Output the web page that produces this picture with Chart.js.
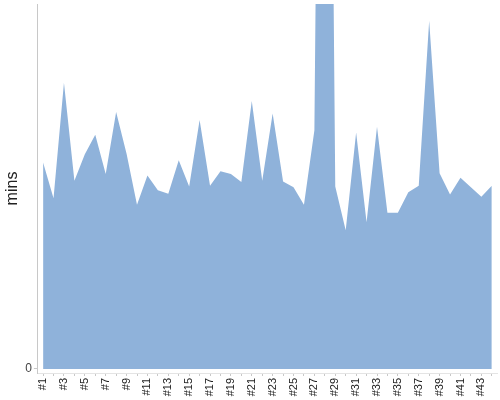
<!DOCTYPE html>
<html>
<head>
<meta charset="utf-8">
<script src="https://cdn.jsdelivr.net/npm/chart.js@4"></script>
<style>
  html, body { margin: 0; padding: 0; background: #fff; }
  #wrap { width: 500px; height: 400px; }
</style>
</head>
<body>
<div id="wrap"><canvas id="chart"></canvas></div>
<script>
// sessions #1..#44
const labels = [];
for (let i = 1; i <= 44; i++) labels.push("#" + i);

const minutes = [
  28.3, 23.4, 39.2, 25.8, 29.4, 32.1, 26.7, 35.2, 29.5, 22.5,
  26.5, 24.5, 24.0, 28.6, 25.0, 34.1, 25.1, 27.1, 26.7, 25.6,
  36.7, 25.8, 35.0, 25.7, 24.9, 22.5, 32.7, 188, 25.0, 19.0,
  32.4, 20.1, 33.2, 21.4, 21.4, 24.2, 25.1, 47.7, 26.8, 23.9,
  26.2, 24.9, 23.6, 25.1
];

const yTicks = [0];
const yMin = -0.55; // small gap between the area and the x axis line
const yMax = 50;

const axisGray = "#c8c8c8";

new Chart(document.getElementById("chart"), {
  type: "line",
  data: {
    labels: labels,
    datasets: [
      {
        label: "mins",
        data: minutes,
        fill: "origin",
        backgroundColor: "rgb(143,178,218)",
        borderWidth: 0,
        pointRadius: 0,
        tension: 0
      }
    ]
  },
  options: {
    responsive: true,
    maintainAspectRatio: false,
    animation: false,
    layout: { padding: { top: 4, right: 3 } },
    plugins: {
      legend: { display: false },
      tooltip: { enabled: false }
    },
    scales: {
      x: {
        offset: true,
        afterFit: axis => {
          axis.paddingLeft = 0;
          axis.paddingRight = 0;
          axis.height = 27;
        },
        grid: { display: true, drawOnChartArea: false, tickLength: 3, color: axisGray },
        border: { display: true, color: "#e4e4e4" },
        ticks: {
          autoSkip: false,
          minRotation: 90,
          maxRotation: 90,
          padding: 2,
          color: "#222",
          font: { family: "Liberation Sans, Arial", size: 11 },
          callback: (v, i) => (i % 2 === 0 ? labels[i] : "")
        }
      },
      y: {
        min: yMin,
        max: yMax,
        afterBuildTicks: axis => {
          axis.ticks = yTicks.map(v => ({ value: v }));
        },
        afterFit: axis => {
          axis.paddingTop = 0;
          axis.paddingBottom = 0;
        },
        grid: { display: true, drawOnChartArea: false, tickLength: 4, color: axisGray },
        border: { display: true, color: axisGray },
        ticks: {
          padding: 2,
          color: "#444",
          font: { family: "Liberation Sans, Arial", size: 12 }
        },
        title: {
          display: true,
          text: "mins",
          color: "#222",
          padding: { top: 3, bottom: 1 },
          font: { family: "Liberation Sans, Arial", size: 16 }
        }
      }
    }
  }
});
</script>
</body>
</html>
